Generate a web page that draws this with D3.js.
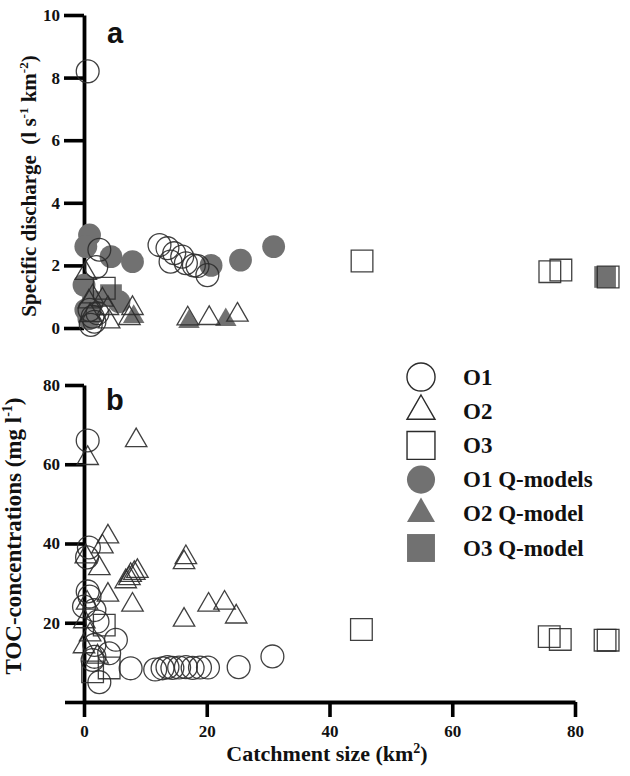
<!DOCTYPE html>
<html><head><meta charset="utf-8">
<script src="https://cdn.jsdelivr.net/npm/d3@7"></script>
<style>body{margin:0;background:#fff}svg{display:block}</style>
</head><body>
<svg id="c" width="630" height="776"></svg>
<script>
// ---- data ----
const xTicks = [0, 20, 40, 60, 80];
const yTicksA = [0, 2, 4, 6, 8, 10];
const yTicksB = [0, 20, 40, 60, 80];
const yTickLabelsB = ["", "20", "40", "60", "80"];
const legendLabels = ["O1", "O2", "O3", "O1 Q-models", "O2 Q-model", "O3 Q-model"];

// Panel a: specific discharge [catchment km2, l s-1 km-2]
const aO1 = [[0.6,8.2],[2.5,2.5],[2.0,1.95],[0.9,0.58],[1.4,0.36],[1.7,0.2],[2.2,0.47],[1.1,0.1],
  [12.3,2.65],[13.6,2.55],[14.7,2.39],[14.1,2.12],[16.0,2.28],[16.6,2.07],[17.9,2.0],[18.5,1.98],[20.1,1.69]];
const aO2 = [[0.3,1.75],[1.4,1.0],[3.0,0.9],[3.9,0.63],[4.1,0.2],[7.9,0.63],[7.4,0.31],[0.8,0.84],
  [16.9,0.3],[20.4,0.31],[25.0,0.42],[1.0,0.4]];
const aO3 = [[3.3,1.27],[45.3,2.14],[75.9,1.8],[77.7,1.85],[85.4,1.63]];
const aO1Q = [[0.9,2.97],[0.3,2.6],[4.4,2.28],[7.9,2.12],[20.7,2.0],[25.5,2.17],[30.9,2.6],[0.0,1.37],
  [5.7,0.84],[0.3,0.58],[0.8,0.3],[1.5,0.85]];
const aO2Q = [[17.1,0.2],[23.1,0.26],[8.1,0.36],[1.5,0.6]];
const aO3Q = [[4.4,1.05],[84.9,1.63]];

// Panel b: TOC concentrations [catchment km2, mg l-1]
const bO1 = [[0.6,66],[0.8,39],[0.5,36.5],[0.6,27.9],[0.9,26.6],[0.0,24.1],[1.7,23.2],[2.2,20.3],
  [5.2,15.7],[4.1,12.3],[1.7,14.4],[2.5,5],[1.4,10.6],[1.7,11.4],
  [7.6,8.5],[11.6,8.2],[12.8,8.5],[13.6,8.8],[14.4,8.6],[15.5,8.7],[16.6,8.8],[17.7,8.6],[18.9,8.7],[20.2,8.7],[25.2,8.8],[30.7,11.5]];
const bO2 = [[8.5,66],[0.6,61.5],[3.9,41.7],[3.0,39.2],[0.3,36.7],[2.5,33.7],[7.6,32],[8.2,32.5],[8.7,33],
  [6.8,30.4],[7.4,31.2],[16.6,36.5],[16.3,35.2],[3.9,27],[7.9,24.5],[16.3,20.7],[20.3,24.5],[22.9,25],
  [24.8,21.5],[0.05,20.3],[0.0,14],[2.2,11.4],[1.0,17],[0.5,25]];
const bO3 = [[3.3,19.4],[1.4,7.6],[4.1,8.6],[45.2,18.3],[75.8,16.5],[77.6,15.8],[84.9,15.6],[85.4,15.6]];

// ---- drawing ----
const svg = d3.select("#c");
const serif = "'Liberation Serif','Times New Roman',serif";
const sans = "'Liberation Sans',Arial,sans-serif";
const grey = "#717171", ink = "#2b2b2b";

const x = d3.scaleLinear().domain([0, 80]).range([84, 575]);
const ya = d3.scaleLinear().domain([0, 10]).range([328, 15]);
const yb = d3.scaleLinear().domain([0, 80]).range([702, 385]);

function styleAxis(g, fs) {
  g.select(".domain").attr("stroke", "#000").attr("stroke-width", 3.8);
  g.selectAll(".tick line").attr("stroke", "#000").attr("stroke-width", 3.6);
  g.selectAll(".tick text").attr("font-family", serif).attr("font-weight", "bold")
    .attr("font-size", fs).attr("fill", "#111");
}

// panel a y axis
const gA = svg.append("g").attr("transform", "translate(84,0)")
  .call(d3.axisLeft(ya).tickValues(yTicksA).tickSize(20).tickSizeOuter(0).tickPadding(4).tickFormat(d3.format("d")));
styleAxis(gA, 17);

// panel b y axis
const gB = svg.append("g").attr("transform", "translate(84,0)")
  .call(d3.axisLeft(yb).tickValues(yTicksB).tickSize(19).tickSizeOuter(0).tickPadding(5)
    .tickFormat((d, i) => yTickLabelsB[i]));
styleAxis(gB, 17);

// x axis
const gX = svg.append("g").attr("transform", "translate(0,702)")
  .call(d3.axisBottom(x).tickValues(xTicks).tickSize(15).tickSizeOuter(0).tickPadding(8).tickFormat(d3.format("d")));
styleAxis(gX, 17);

// titles
svg.append("text").attr("transform", "translate(36,186) rotate(-90)").attr("text-anchor", "middle")
  .attr("font-family", serif).attr("font-weight", "bold").attr("font-size", 21).attr("fill", "#111")
  .html('Specific discharge&#160;&#160;(l s<tspan dy="-8" font-size="13">-1</tspan><tspan dy="8"> km</tspan><tspan dy="-8" font-size="13">-2</tspan><tspan dy="8">)</tspan>');
svg.append("text").attr("transform", "translate(21,536) rotate(-90)").attr("text-anchor", "middle")
  .attr("font-family", serif).attr("font-weight", "bold").attr("font-size", 23).attr("fill", "#111")
  .html('TOC-concentrations (mg l<tspan dy="-9" font-size="14">-1</tspan><tspan dy="9">)</tspan>');
svg.append("text").attr("x", 327).attr("y", 761).attr("text-anchor", "middle")
  .attr("font-family", serif).attr("font-weight", "bold").attr("font-size", 22).attr("fill", "#111")
  .html('Catchment size (km<tspan dy="-8" font-size="14">2</tspan><tspan dy="8">)</tspan>');

svg.append("text").attr("x", 107).attr("y", 43).attr("font-family", sans).attr("font-weight", "bold")
  .attr("font-size", 29).attr("fill", "#111").text("a");
svg.append("text").attr("x", 106).attr("y", 410).attr("font-family", sans).attr("font-weight", "bold")
  .attr("font-size", 29).attr("fill", "#111").text("b");

// symbols
const symSize = { circle: 410, triangle: 200, square: 470 };
const symType = { circle: d3.symbolCircle, triangle: d3.symbolTriangle, square: d3.symbolSquare };
function plot(data, y, kind, filled) {
  svg.append("g").selectAll("path").data(data).join("path")
    .attr("d", d3.symbol(symType[kind], symSize[kind]))
    .attr("transform", d => `translate(${x(d[0])},${y(d[1])})`)
    .attr("fill", filled ? grey : "none")
    .attr("stroke", filled ? "none" : ink)
    .attr("stroke-width", 1.3)
    .attr("stroke-opacity", 0.9);
}
// panel a: filled models first, open on top
plot(aO1Q, ya, "circle", true);
plot(aO2Q, ya, "triangle", true);
plot(aO3Q, ya, "square", true);
plot(aO1, ya, "circle", false);
plot(aO2, ya, "triangle", false);
plot(aO3, ya, "square", false);
// panel b
plot(bO1, yb, "circle", false);
plot(bO2, yb, "triangle", false);
plot(bO3, yb, "square", false);

// legend
const legKinds = [["circle", false], ["triangle", false], ["square", false], ["circle", true], ["triangle", true], ["square", true]];
const legY = d3.scalePoint().domain(legendLabels).range([377, 548]);
const legSize = { circle: 620, triangle: 340, square: 780 };
const leg = svg.append("g");
legendLabels.forEach((lab, i) => {
  const [k, f] = legKinds[i];
  leg.append("path").attr("d", d3.symbol(symType[k], legSize[k]))
    .attr("transform", `translate(421,${legY(lab)})`)
    .attr("fill", f ? grey : "none").attr("stroke", f ? "none" : ink).attr("stroke-width", 1.4);
  leg.append("text").attr("x", 463).attr("y", legY(lab) + 7.5)
    .attr("font-family", serif).attr("font-weight", "bold").attr("font-size", 23).attr("fill", "#111").text(lab);
});
</script>
</body></html>
